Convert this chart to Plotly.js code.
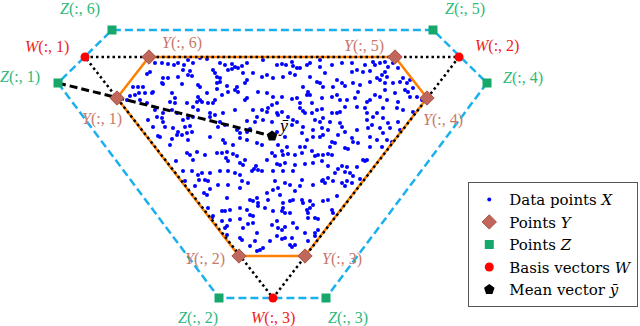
<!DOCTYPE html>
<html>
<head>
<meta charset="utf-8">
<script src="https://cdn.plot.ly/plotly-3.0.1.min.js"></script>
<style>
  html, body { margin: 0; padding: 0; background: #fff; }
  #chart { width: 640px; height: 326px; }
</style>
</head>
<body>
<div id="chart"></div>
<script>
// positions (x to the right, y downward)
const wX = [85, 459, 273];
const wY = [57, 57, 298];
const yX = [117, 239, 305, 427, 395, 149];
const yY = [98, 256, 256, 98, 57, 57];
const zX = [58, 219, 326, 487, 433, 112];
const zY = [83, 298, 298, 83, 30, 30];
const meanX = [272];
const meanY = [136];

const dataPts = [
  [155,63],[162,63],[168,64],[174,65],[178,63],[184,65],[188,60],[193,63],[200,58],[207,59],[220,63],[225,65],[232,64],[235,67],[242,66],[247,63],[263,60],
  [150,72],[147,74],[183,70],[190,71],[188,75],[213,70],[215,73],[217,77],[220,78],[228,70],[232,69],[238,68],[243,73],[253,73],[267,75],[163,78],[168,78],[178,77],[192,76],
  [162,83],[163,84],[182,84],[198,85],[200,87],[220,82],[217,83],[227,86],[237,87],[245,83],[247,80],[262,77],[133,87],[138,87],[143,87],[139,93],[135,95],[130,96],
  [145,93],[152,93],[153,92],[172,93],[175,98],[198,97],[200,100],[207,93],[217,89],[228,92],[235,90],[238,92],[258,92],[267,93],[127,100],[140,100],[147,103],[170,102],
  [175,103],[187,103],[197,102],[202,102],[208,103],[215,100],[222,95],[245,100],[247,98],[193,107],[213,103],[155,110],[157,117],[163,113],[172,110],[177,113],[198,110],
  [210,113],[215,115],[223,113],[235,110],[253,110],[262,110],[267,112],[268,108],[148,120],[162,118],[163,122],[183,120],[188,118],[193,117],[210,117],[220,122],[225,125],
  [247,121],[255,122],[257,117],[263,120],[153,127],[165,127],[173,128],[185,127],[190,126],[192,132],[178,132],[187,133],[218,127],[237,130],[240,133],[247,132],[250,129],
  [158,136],[160,137],[172,139],[177,135],[182,135],[188,140],[210,137],[223,140],[225,143],[233,145],[240,138],[247,140],[257,143],[262,145],[170,145],
  [277,65],[282,64],[286,65],[292,62],[293,66],[297,68],[300,68],[307,65],[310,63],[320,60],[320,67],[332,65],[342,63],[352,63],[365,65],[373,62],[375,65],[380,63],[385,62],
  [388,67],[385,72],[387,77],[382,75],[393,63],[398,68],[357,70],[352,72],[363,72],[370,71],[273,78],[283,77],[290,73],[295,75],[310,77],[317,82],[325,73],[320,83],[323,87],
  [337,80],[333,87],[342,83],[345,86],[353,83],[360,85],[370,82],[377,78],[380,80],[385,83],[393,83],[400,82],[403,78],[407,83],[410,80],[405,90],[408,92],[413,88],[303,87],
  [308,92],[273,97],[282,97],[292,99],[297,98],[300,103],[307,95],[310,95],[312,103],[322,98],[332,97],[337,95],[340,100],[347,100],[358,92],[355,98],[367,102],[370,100],
  [375,95],[380,97],[385,90],[387,100],[395,93],[398,102],[410,97],[417,97],[422,100],[277,103],[272,105],[277,113],[278,115],[282,112],[288,117],[300,108],[303,111],
  [305,113],[312,113],[317,110],[322,109],[332,113],[337,113],[340,112],[345,107],[357,107],[365,108],[367,113],[377,113],[383,108],[397,108],[403,110],[413,112],[323,118],
  [320,122],[315,120],[367,120],[373,117],[383,118],[293,120],[297,122],[272,122],[292,125],[303,127],[313,130],[322,128],[328,130],[330,122],[340,123],[342,127],[345,132],
  [357,130],[368,128],[372,125],[380,128],[388,123],[390,128],[398,122],[400,130],[277,132],[383,133],[285,137],[302,133],[307,140],[313,137],[320,137],[323,135],[332,142],
  [335,143],[338,135],[352,138],[353,142],[358,143],[370,137],[377,140],[387,140],[278,145],[287,147],[300,147],[305,147],[330,147],[345,148],[370,147],[382,147],[392,142],
  [187,153],[190,155],[193,160],[197,152],[205,155],[217,153],[222,153],[227,152],[226,158],[228,161],[233,154],[237,156],[240,163],[245,160],[243,165],[256,166],[258,170],
  [262,171],[267,160],[176,161],[183,171],[192,171],[198,175],[202,173],[205,180],[210,173],[208,181],[220,171],[228,171],[235,173],[240,175],[242,181],[248,183],[252,171],
  [254,169],[199,180],[185,181],[195,186],[204,193],[207,195],[210,189],[218,185],[228,185],[240,188],[250,200],[253,201],[257,198],[258,203],[267,193],[268,200],[227,198],
  [208,208],[222,211],[225,211],[230,210],[240,208],[247,210],[258,206],[265,208],[212,218],[213,216],[222,221],[230,220],[240,219],[250,215],[253,216],[225,228],[227,226],
  [243,228],[248,224],[253,223],[257,233],[240,238],[242,240],[250,246],[255,241],[257,251],[263,248],[260,250],[227,235],
  [272,153],[275,156],[282,151],[283,155],[288,154],[295,155],[302,153],[312,151],[315,156],[318,155],[323,155],[328,154],[332,155],[348,149],[277,164],[280,165],[285,163],
  [295,165],[305,164],[313,163],[322,161],[328,166],[335,173],[338,169],[342,166],[347,167],[345,172],[350,173],[357,167],[363,160],[365,161],[367,160],[273,171],[283,171],
  [293,171],[275,181],[273,190],[278,188],[285,183],[290,185],[295,191],[302,180],[300,186],[313,185],[322,181],[325,183],[323,180],[328,178],[333,181],[342,183],[347,181],
  [345,186],[352,183],[353,176],[360,179],[280,195],[283,203],[290,201],[293,200],[302,200],[303,203],[310,201],[313,205],[323,201],[328,200],[337,196],[307,210],[310,208],
  [308,213],[332,210],[333,213],[282,211],[283,208],[285,213],[273,211],[290,213],[308,218],[315,218],[318,219],[277,221],[272,225],[278,228],[282,230],[285,227],[293,223],
  [297,228],[305,233],[318,230],[315,233],[277,236],[282,239],[285,238],[292,238],[290,245],[295,245],[292,247],[270,241],[315,236],[308,241]
];
const dataX = dataPts.map(p => p[0]);
const dataY = dataPts.map(p => p[1]);

const serif = 'Liberation Serif, Times New Roman, serif';
const closed = a => a.concat([a[0]]);

const traces = [
  {
    x: dataX, y: dataY, type: 'scatter', mode: 'markers',
    name: 'Data points <i>X</i>', legendrank: 1,
    marker: {color: '#0000ff', size: 4}
  },
  {
    x: closed(yX), y: closed(yY), type: 'scatter', mode: 'lines', showlegend: false,
    line: {color: '#ff8000', width: 2.5}
  },
  {
    x: closed(zX), y: closed(zY), type: 'scatter', mode: 'lines', showlegend: false,
    line: {color: '#1ab0ee', width: 2.5, dash: '8px,4px'}
  },
  {
    x: closed(wX), y: closed(wY), type: 'scatter', mode: 'lines', showlegend: false,
    line: {color: '#000000', width: 2.5, dash: '2.5px,3px'}
  },
  {
    x: [zX[0], meanX[0]], y: [zY[0], meanY[0]], type: 'scatter', mode: 'lines', showlegend: false,
    line: {color: '#000000', width: 3, dash: '8px,4px'}
  },
  {
    x: yX, y: yY, type: 'scatter', mode: 'markers',
    name: 'Points <i>Y</i>', legendrank: 2,
    marker: {symbol: 'diamond', color: '#c0665a', size: 11, line: {color: '#a85448', width: 1}}
  },
  {
    x: zX, y: zY, type: 'scatter', mode: 'markers',
    name: 'Points <i>Z</i>', legendrank: 3,
    marker: {symbol: 'square', color: '#15a86a', size: 9}
  },
  {
    x: wX, y: wY, type: 'scatter', mode: 'markers',
    name: 'Basis vectors <i>W</i>', legendrank: 4,
    marker: {symbol: 'circle', color: '#ff0000', size: 9}
  },
  {
    x: meanX, y: meanY, type: 'scatter', mode: 'markers',
    name: 'Mean vector <i>ȳ</i>', legendrank: 5,
    marker: {symbol: 'pentagon', color: '#000000', size: 11}
  }
];

// label offsets in pixels (right, up)
const zShift = [[-38, 6], [-21, -20], [22, -20], [36, 5], [32, 21], [-32, 21]];
const wShift = [[-38, 10], [38, 11], [0, -20]];
const yShift = [[-15, -21], [-34, -3], [37, -3], [16, -22], [-31, 11], [33, 14]];

function labels(xs, ys, shifts, letter, color) {
  return xs.map((x, i) => ({
    x: x, y: ys[i], xref: 'x', yref: 'y',
    text: '<i>' + letter + '</i>(:, ' + (i + 1) + ')',
    showarrow: false, xshift: shifts[i][0], yshift: shifts[i][1],
    font: {family: serif, size: 16, color: color}
  }));
}

const annotations = []
  .concat(labels(zX, zY, zShift, 'Z', '#2db87a'))
  .concat(labels(wX, wY, wShift, 'W', '#ee2222'))
  .concat(labels(yX, yY, yShift, 'Y', '#c8786c'))
  .concat([{
    x: meanX[0], y: meanY[0], xref: 'x', yref: 'y', text: '<i>ȳ</i>',
    showarrow: false, xshift: 11, yshift: 10,
    font: {family: serif, size: 18, color: '#000'}
  }]);

const layout = {
  width: 640, height: 326,
  margin: {l: 0, r: 0, t: 0, b: 0},
  paper_bgcolor: '#fff', plot_bgcolor: '#fff',
  xaxis: {range: [0, 640], visible: false, fixedrange: true},
  yaxis: {range: [326, 0], visible: false, fixedrange: true},
  showlegend: true,
  legend: {
    x: 0.997, xanchor: 'right', y: 1 - 182 / 326, yanchor: 'top',
    bgcolor: '#fff', bordercolor: '#555', borderwidth: 1.2,
    font: {family: 'DejaVu Serif, serif', size: 15, color: '#000'},
    traceorder: 'normal'
  },
  annotations: annotations
};

Plotly.newPlot('chart', traces, layout, {displayModeBar: false, staticPlot: true});
</script>
</body>
</html>
